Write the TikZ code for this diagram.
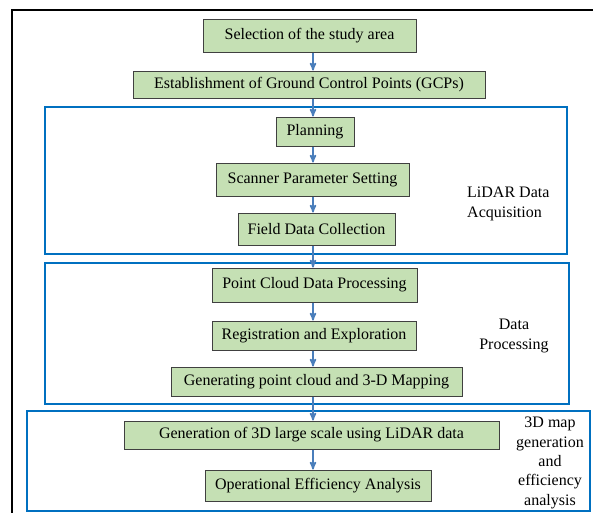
\documentclass[tikz,border=0pt]{standalone}
\usepackage{fontspec}
\setmainfont{Liberation Serif}
\usetikzlibrary{arrows}
\definecolor{stagefill}{RGB}{197,224,180}
\definecolor{groupblue}{RGB}{0,112,192}
\definecolor{flowblue}{RGB}{74,126,187}
\tikzstyle{stage} = [
  draw=black!75,
  fill=stagefill,
  rectangle,
  line width=1pt,
  inner sep=0pt,
  font=\fontsize{16}{19.3}\selectfont,
]
\tikzstyle{group} = [
  draw=groupblue,
  rectangle,
  line width=1.6pt,
]
\tikzstyle{grouplabel} = [
  inner sep=0pt,
  font=\fontsize{16}{19.3}\selectfont,
]
\tikzstyle{flow} = [
  draw=flowblue,
  line width=1.6pt,
  ->,
  >=stealth',
]

\begin{document}
\begin{tikzpicture}[
    x=1pt,
    y=-1pt,
  ]
  \useasboundingbox (0,0) rectangle (593,512);
  \draw[line width=2pt] (12,520) -- (12,10) -- (600,10);
  \coordinate (spine) at (313,0);
  % phase frames
  \node[group, minimum width=522, minimum height=147]
    (acq) at (306,180.5) {};
  \node[group, minimum width=524, minimum height=141]
    (proc) at (307,333.5) {};
  \node[group, minimum width=563, minimum height=100]
    (map) at (308.5,461) {};
  % steps
  \node[stage, minimum width=213, minimum height=33]
    (select) at (309.5,35.5) {Selection of the study area};
  \node[stage, minimum width=352, minimum height=27]
    (gcp) at (309,84.5) {Establishment of Ground Control Points (GCPs)};
  \node[stage, minimum width=78, minimum height=29]
    (plan) at (315,131.5) {Planning};
  \node[stage, minimum width=193, minimum height=33]
    (scanner) at (312.5,179.5) {Scanner Parameter Setting};
  \node[stage, minimum width=157, minimum height=32]
    (field) at (316.5,229) {Field Data Collection};
  \node[stage, minimum width=205, minimum height=34]
    (cloud) at (314.5,285) {Point Cloud Data Processing};
  \node[stage, minimum width=204, minimum height=29]
    (register) at (314,335.5) {Registration and Exploration};
  \node[stage, minimum width=291, minimum height=29]
    (mapping) at (316.5,381.5) {Generating point cloud and 3-D Mapping};
  \node[stage, minimum width=375, minimum height=28]
    (largescale) at (311.5,435) {Generation of 3D large scale using LiDAR data};
  \node[stage, minimum width=226, minimum height=31]
    (efficiency) at (318,485.5) {Operational Efficiency Analysis};
  % phase names
  \node[grouplabel, anchor=west, align=left]
    (acqname) at (467,204) {LiDAR Data\\Acquisition};
  \node[grouplabel, align=center]
    (procname) at (514,336) {Data\\Processing};
  \node[grouplabel, align=center]
    (mapname) at (550,463) {3D map\\generation\\and\\efficiency\\analysis};
  % flow
  \foreach \a/\b in {select/gcp, gcp/plan, plan/scanner, scanner/field,
      field/cloud, cloud/register, register/mapping, mapping/largescale,
      largescale/efficiency}
    \draw[flow] (\a.south -| spine) -- (\b.north -| spine);
\end{tikzpicture}
\end{document}
